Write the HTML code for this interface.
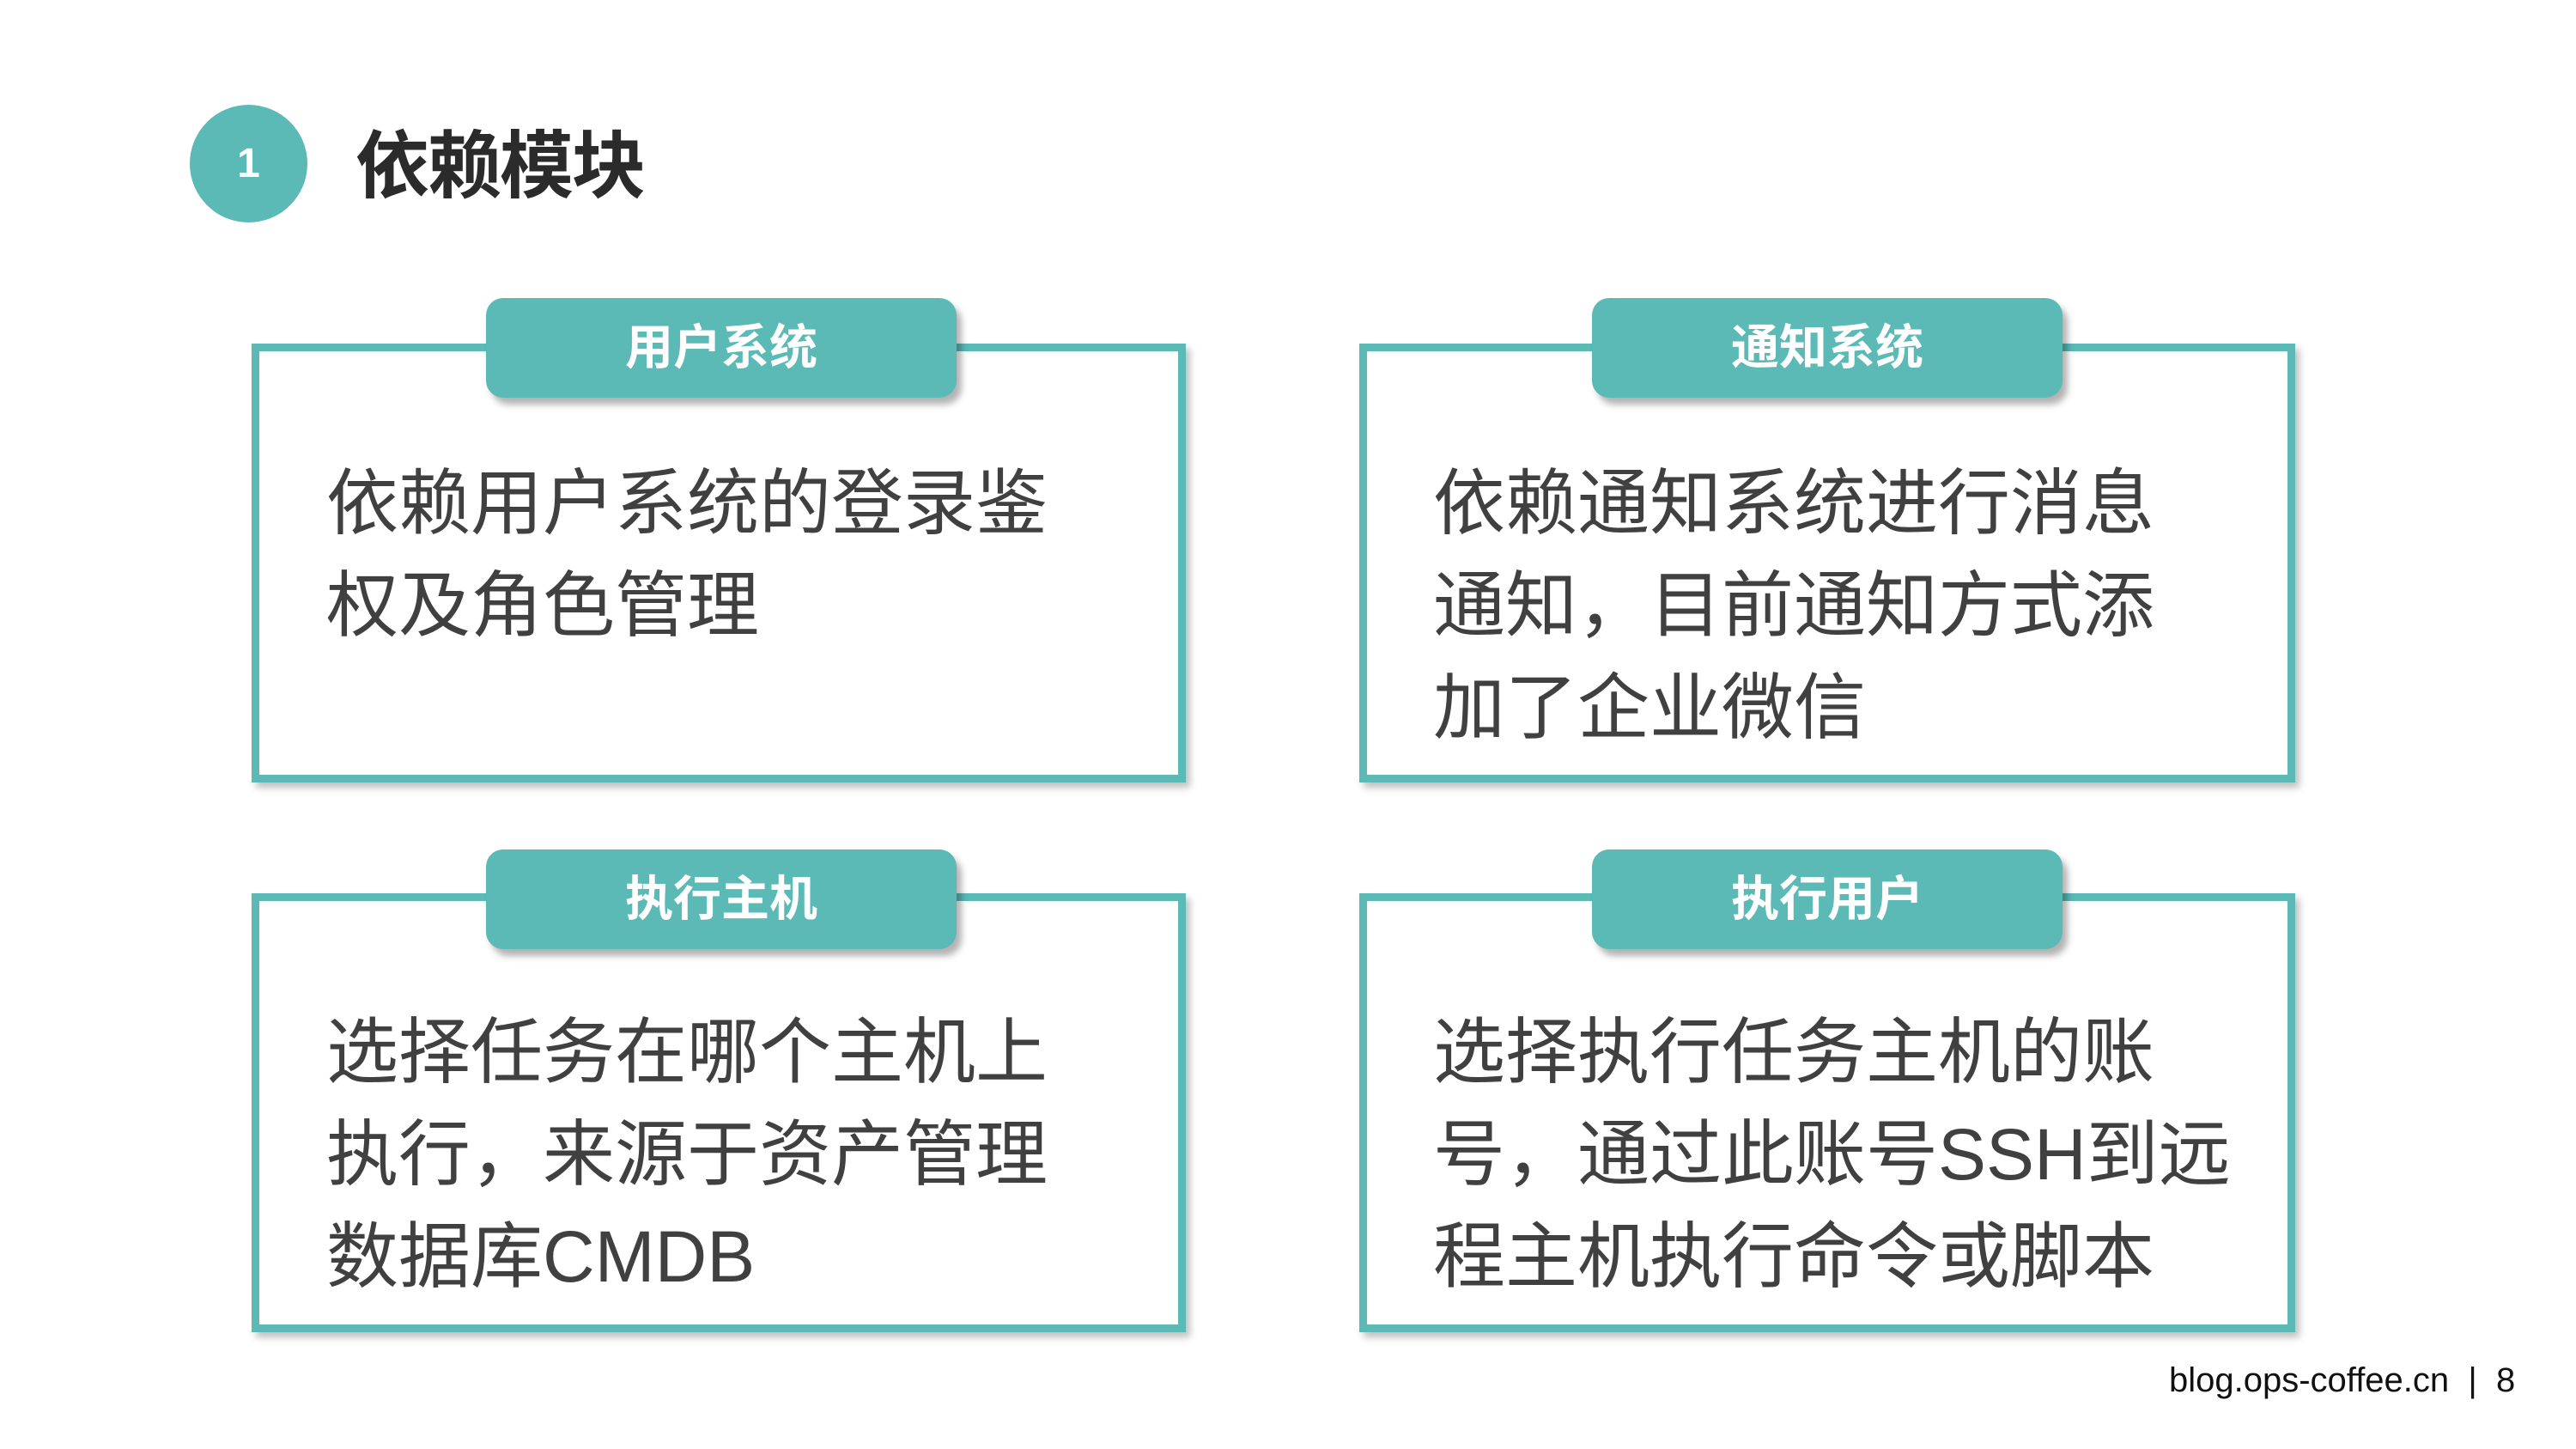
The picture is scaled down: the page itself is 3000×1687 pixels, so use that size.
<!DOCTYPE html>
<html><head><meta charset="utf-8"><style>
body{margin:0;width:3000px;height:1687px;background:#fff;position:relative;overflow:hidden;font-family:"Liberation Sans","Noto Sans CJK SC",sans-serif}
.circ{position:absolute;left:221px;top:122px;width:137px;height:137px;border-radius:50%;background:#5bb9b6;color:#fff;font-size:48px;font-weight:bold;line-height:137px;text-align:center}
.title{position:absolute;left:414px;top:141px;font-size:86px;font-weight:bold;color:#2b2b2b;line-height:106px;letter-spacing:-2px}
.box{position:absolute;border:9px solid #5bb9b6;box-sizing:border-box;box-shadow:5px 6px 8px rgba(0,0,0,.25)}
.tab{position:absolute;width:548px;height:116px;background:#5bb9b6;border-radius:20px;color:#fff;font-size:56px;font-weight:bold;text-align:center;line-height:116px;box-shadow:6px 8px 8px rgba(0,0,0,.3)}
.txt{position:absolute;font-size:84px;color:#404040;line-height:119px;width:900px}
.foot{position:absolute;left:2526px;top:1582px;font-size:40px;color:#111;line-height:50px}
</style></head><body>
<div class="circ">1</div>
<div class="title">依赖模块</div>

<div class="box" style="left:293px;top:400px;width:1088px;height:511px"></div>
<div class="tab" style="left:566px;top:347px">用户系统</div>
<div class="txt" style="left:380px;top:527px">依赖用户系统的登录鉴<br>权及角色管理</div>

<div class="box" style="left:1583px;top:400px;width:1090px;height:511px"></div>
<div class="tab" style="left:1854px;top:347px">通知系统</div>
<div class="txt" style="left:1669px;top:527px">依赖通知系统进行消息<br>通知，目前通知方式添<br>加了企业微信</div>

<div class="box" style="left:293px;top:1040px;width:1088px;height:511px"></div>
<div class="tab" style="left:566px;top:989px">执行主机</div>
<div class="txt" style="left:380px;top:1166px">选择任务在哪个主机上<br>执行，来源于资产管理<br>数据库CMDB</div>

<div class="box" style="left:1583px;top:1040px;width:1090px;height:511px"></div>
<div class="tab" style="left:1854px;top:989px">执行用户</div>
<div class="txt" style="left:1669px;top:1166px;width:1000px">选择执行任务主机的账<br>号，通过此账号SSH到远<br>程主机执行命令或脚本</div>

<div class="foot">blog.ops-coffee.cn &nbsp;| &nbsp;8</div>
</body></html>
